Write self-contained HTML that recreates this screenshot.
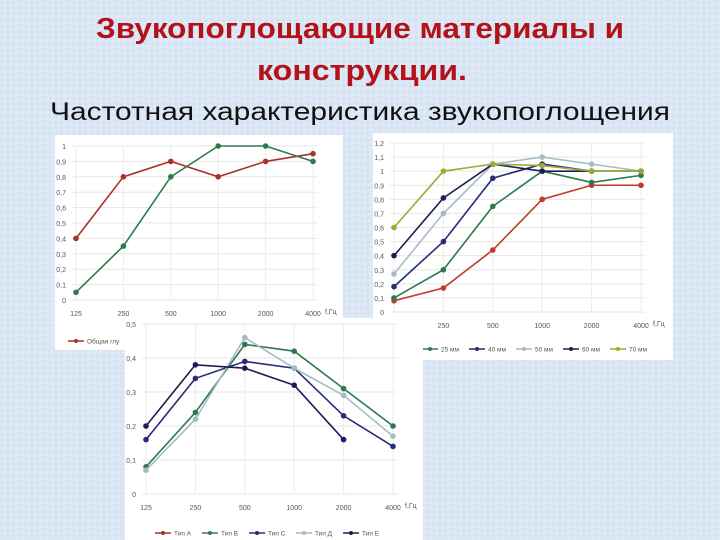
<!DOCTYPE html>
<html><head><meta charset="utf-8">
<style>
html,body{margin:0;padding:0;}
body{width:720px;height:540px;overflow:hidden;background:#dde9f5;font-family:"Liberation Sans",sans-serif;}
svg{display:block;}
</style></head>
<body>
<svg id="s" width="720" height="540" viewBox="0 0 720 540" xmlns="http://www.w3.org/2000/svg">
<defs>
<pattern id="tex" width="6" height="6" patternUnits="userSpaceOnUse">
<rect width="6" height="6" fill="#dbe7f4"/>
<rect x="1" y="1" width="2" height="2" fill="#cfdff0"/>
<rect x="4" y="3" width="1" height="2" fill="#e8f0f9"/>
</pattern>
</defs>
<rect width="720" height="540" fill="url(#tex)"/>
<text x="360" y="38" text-anchor="middle" font-size="29" font-weight="bold" fill="#b3121a" textLength="528" lengthAdjust="spacingAndGlyphs">Звукопоглощающие материалы и</text>
<text x="362" y="80" text-anchor="middle" font-size="29" font-weight="bold" fill="#b3121a" textLength="210" lengthAdjust="spacingAndGlyphs">конструкции.</text>
<text x="360" y="120" text-anchor="middle" font-size="25" fill="#111" textLength="620" lengthAdjust="spacingAndGlyphs">Частотная характеристика звукопоглощения</text>
<g id="charts"></g>
</svg>
<script>
const freqs = ["125","250","500","1000","2000","4000"];
const c1Red = [0.4,0.8,0.9,0.8,0.9,0.95];
const c1Green = [0.05,0.35,0.8,1,1,0.9];
const c1Ticks = ["0","0,1","0,2","0,3","0,4","0,5","0,6","0,7","0,8","0,9","1"];
const c2Ticks = ["0","0,1","0,2","0,3","0,4","0,5","0,6","0,7","0,8","0,9","1","1,1","1,2"];
const c2Red = [0.08,0.17,0.44,0.8,0.9,0.9];
const c2Mm25 = [0.1,0.3,0.75,1.0,0.92,0.97];
const c2Mm40 = [0.18,0.5,0.95,1.05,1.0,1.0];
const c2Mm50 = [0.27,0.7,1.05,1.1,1.05,1.0];
const c2Mm60 = [0.4,0.81,1.05,1.0,1.0,1.0];
const c2Mm70 = [0.6,1.0,1.05,1.04,1.0,1.0];
const c3Ticks = ["0","0,1","0,2","0,3","0,4","0,5"];
const c3B = [0.08,0.24,0.44,0.42,0.31,0.20];
const c3C = [0.16,0.34,0.39,0.37,0.23,0.14];
const c3D = [0.07,0.22,0.46,0.37,0.29,0.17];
const c3E = [0.20,0.38,0.37,0.32,0.16,null];

const NS="http://www.w3.org/2000/svg";
const root=document.getElementById('charts');
function mk(tag,attrs,parent){const e=document.createElementNS(NS,tag);for(const k in attrs)e.setAttribute(k,attrs[k]);(parent||root).appendChild(e);return e;}

function chart(cfg){
  const g=mk('g',{});
  
  
  const p=mk('rect',{x:cfg.panel[0],y:cfg.panel[1],width:cfg.panel[2],height:cfg.panel[3],fill:'#fff'},g);
  
  
  const xs=i=>cfg.x0+(cfg.x1-cfg.x0)*i/5;
  const ys=v=>cfg.y0-(cfg.y0-cfg.yTop)*v/cfg.vmax;
  cfg.ticks.forEach((t,i)=>{
    const v=i*cfg.step, y=ys(v);
    const l=mk('line',{x1:cfg.x0-4,x2:cfg.x1+4,y1:y,y2:y,stroke:'#e6e6e6','stroke-width':1},g);
    
    
    const tx=mk('text',{x:cfg.x0-10,y:y+3,'font-size':7,fill:'#555','text-anchor':'end'},g);
    tx.textContent=t;
    
    
  });
  freqs.forEach((f,i)=>{
    const x=xs(i);
    const l=mk('line',{x1:x,x2:x,y1:cfg.yTop,y2:cfg.y0,stroke:'#ececec','stroke-width':1},g);
    
    
    if(cfg.skipFirst&&i===0)return;
    const tx=mk('text',{x:x,y:cfg.y0+16,'font-size':7,fill:'#555','text-anchor':'middle'},g);
    tx.textContent=f;
    
    
  });
  const u=mk('text',{x:cfg.x1+12,y:cfg.y0+14,'font-size':7,fill:'#555'},g);
  u.textContent='f,Гц';
  
  
  cfg.series.forEach(s=>{
    let d='';
    s.data.forEach((v,i)=>{if(v==null)return;d+=(d?'L':'M')+xs(i)+' '+ys(v);});
    const pl=mk('path',{d:d,fill:'none',stroke:s.color,'stroke-width':1.6},g);
    
    
    s.data.forEach((v,i)=>{if(v==null)return;
      const c=mk('circle',{cx:xs(i),cy:ys(v),r:2.8,fill:s.color},g);
      
      });
  });
  let lx=cfg.legX;
  cfg.legend.forEach(s=>{
    const l=mk('line',{x1:lx,x2:lx+16,y1:cfg.legY,y2:cfg.legY,stroke:s.color,'stroke-width':1.5},g);
    
    
    const c=mk('circle',{cx:lx+8,cy:cfg.legY,r:2,fill:s.color},g);
    
    
    const t=mk('text',{x:lx+19,y:cfg.legY+2.5,'font-size':6.5,fill:'#555'},g);
    t.textContent=s.label;
    
    
    lx+=cfg.legGap;
  });
}
chart({name:'chart-general',panel:[55,135,288,215],x0:76,x1:313,y0:300,yTop:146,vmax:1,step:0.1,ticks:c1Ticks,
  series:[{key:'red',color:'#a83228',data:c1Red},{key:'green',color:'#2e7a4c',data:c1Green}],
  legend:[{label:'Общая глу',color:'#a83228'}],legX:68,legY:341,legGap:60});
chart({name:'chart-thickness',panel:[373,133,300,227],x0:394,x1:641,y0:312,yTop:143,vmax:1.2,step:0.1,ticks:c2Ticks,skipFirst:true,
  series:[{key:'red',color:'#c0392b',data:c2Red},{key:'25mm',color:'#2e7a4c',data:c2Mm25},{key:'40mm',color:'#2a2a7a',data:c2Mm40},{key:'50mm',color:'#a6bcc4',data:c2Mm50},{key:'60mm',color:'#221a55',data:c2Mm60},{key:'70mm',color:'#9aad2e',data:c2Mm70}],
  legend:[{label:'25 мм',color:'#2e7a4c'},{label:'40 мм',color:'#2a2a7a'},{label:'50 мм',color:'#a6bcc4'},{label:'60 мм',color:'#221a55'},{label:'70 мм',color:'#9aad2e'}],legX:422,legY:349,legGap:47});
chart({name:'chart-types',panel:[125,318,298,222],x0:146,x1:393,y0:494,yTop:324,vmax:0.5,step:0.1,ticks:c3Ticks,
  series:[{key:'tipB',color:'#2e7a4c',data:c3B},{key:'tipC',color:'#2a2a7a',data:c3C},{key:'tipD',color:'#a6bcc4',data:c3D},{key:'tipE',color:'#221a55',data:c3E}],
  legend:[{label:'Тип A',color:'#a83228'},{label:'Тип B',color:'#2e7a4c'},{label:'Тип C',color:'#2a2a7a'},{label:'Тип Д',color:'#a6bcc4'},{label:'Тип E',color:'#221a55'}],legX:155,legY:533,legGap:47});
</script>
</body></html>
